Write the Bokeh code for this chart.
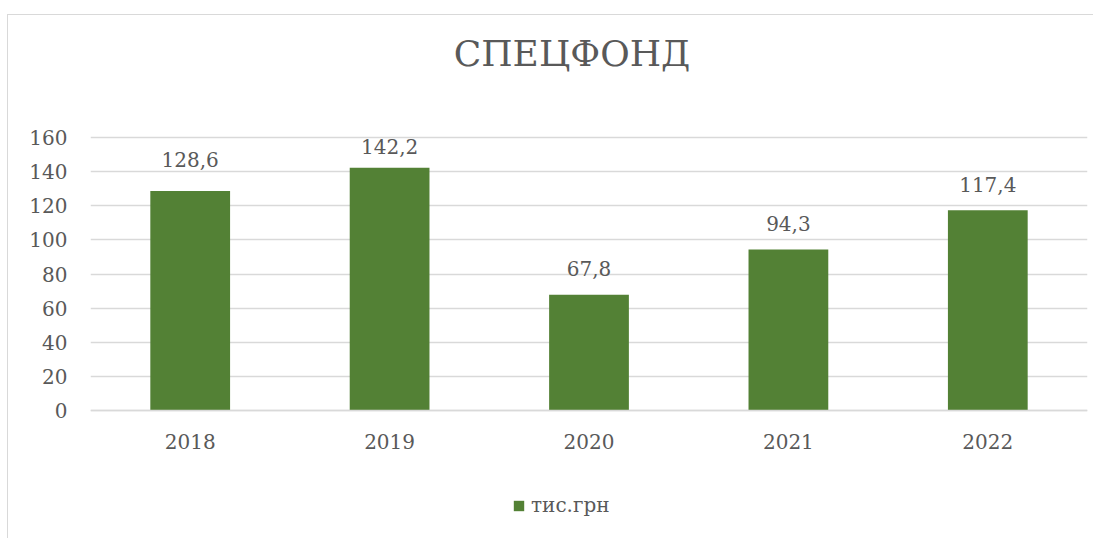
from bokeh.plotting import figure
from bokeh.models import ColumnDataSource, FixedTicker, Legend, LegendItem, Label
from bokeh.core.properties import value
from bokeh.embed import file_html
from bokeh.resources import INLINE

years = ["2018", "2019", "2020", "2021", "2022"]
amounts = [128.6, 142.2, 67.8, 94.3, 117.4]
amount_labels = ["128,6", "142,2", "67,8", "94,3", "117,4"]
y_ticks = [0, 20, 40, 60, 80, 100, 120, 140, 160]
title_text = "СПЕЦФОНД"
series_name = "тис.грн"

# style: label centre distance above the bar top (px)
label_gaps = [32, 21, 26, 26, 26]

FONT = "DejaVu Serif"
TXT = "#595959"
GRID = "#d9d9d9"
BAR = "#538135"

src = ColumnDataSource(dict(
    year=years, amount=amounts, label=amount_labels,
    yoff=[-g for g in label_gaps],
))

# frame spans full canvas height; value axis 0..160 occupies the middle band
p = figure(width=1086, height=524, x_range=years, y_range=(-75.6, 231.5),
           output_backend="svg", toolbar_location=None, title_location=None,
           min_border_left=82, min_border_right=7,
           min_border_top=0, min_border_bottom=0)
p.styles = {"margin-left": "7px", "margin-top": "14px",
            "border-left": "1px solid #d9d9d9", "border-top": "1px solid #d9d9d9"}
p.x_range.range_padding = 0
p.outline_line_color = None
p.background_fill_color = "white"
p.border_fill_color = "white"

r = p.vbar(x="year", top="amount", width=0.4, source=src,
           fill_color=BAR, line_color=None)

p.text(x="year", y="amount", text="label", source=src, y_offset="yoff",
       text_align="center", text_baseline="middle",
       text_font=value(FONT), text_font_size="20px", text_color=TXT)

# title
p.add_layout(Label(x=481.5, y=486, x_units="screen", y_units="screen",
                   text=title_text, text_align="center", text_baseline="middle",
                   text_font=FONT, text_font_size="36px", text_color=TXT))

# axes
p.yaxis.ticker = FixedTicker(ticks=y_ticks)
p.yaxis.axis_line_color = None
p.yaxis.major_tick_line_color = None
p.yaxis.minor_tick_line_color = None
p.yaxis.major_tick_out = 0
p.yaxis.major_label_standoff = 23
p.yaxis.major_label_text_font = FONT
p.yaxis.major_label_text_font_size = "20px"
p.yaxis.major_label_text_color = TXT

p.xaxis.fixed_location = 0
p.xaxis.axis_line_color = GRID
p.xaxis.axis_line_width = 1.5
p.xaxis.major_tick_line_color = None
p.xaxis.major_tick_out = 0
p.xaxis.major_tick_in = 0
p.xaxis.major_label_standoff = 23
p.xaxis.major_label_text_font = FONT
p.xaxis.major_label_text_font_size = "20px"
p.xaxis.major_label_text_color = TXT

p.xgrid.grid_line_color = None
p.ygrid.grid_line_color = GRID
p.ygrid.grid_line_width = 1.5

legend = Legend(items=[LegendItem(label=series_name, renderers=[r])],
                location=(422, 22), orientation="horizontal",
                glyph_width=13, glyph_height=13, label_standoff=6,
                padding=0, margin=0, spacing=0,
                background_fill_alpha=0, border_line_color=None,
                label_text_font=FONT, label_text_font_size="20px",
                label_text_color=TXT)
p.add_layout(legend, "center")

open("out.html", "w").write(file_html(p, INLINE))
